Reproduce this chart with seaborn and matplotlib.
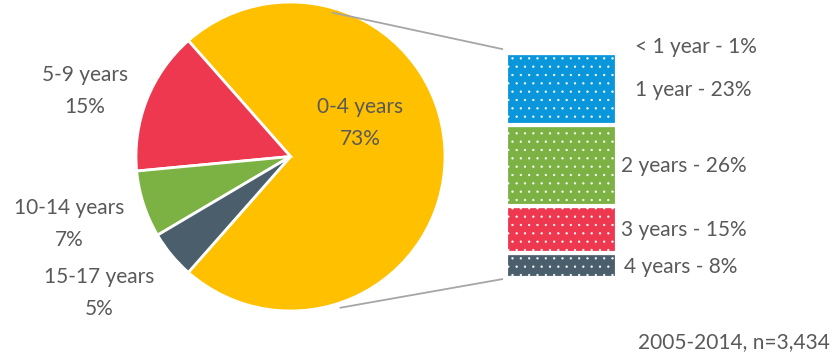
import numpy as np
import matplotlib
import matplotlib.pyplot as plt
import seaborn as sns

matplotlib.use("agg")

# pie data
age_groups = ["0-4 years", "5-9 years", "10-14 years", "15-17 years"]
age_pcts = [73, 15, 7, 5]
age_colors = ["#FFC000", "#EE384F", "#7CB243", "#4B5E6B"]

# breakdown of the 0-4 slice (top to bottom)
sub_labels = ["< 1 year", "1 year", "2 years", "3 years", "4 years"]
sub_pcts = [1, 23, 26, 15, 8]
sub_colors = ["#0A96DB", "#0A96DB", "#7CB243", "#EE384F", "#4B5E6B"]

note = "2005-2014, n=3,434"

W, H = 840, 358
text_gray = "#595959"

sns.set_theme(style="white")
plt.rcParams["font.family"] = ["Lato", "DejaVu Sans"]
plt.rcParams["hatch.linewidth"] = 0.4

fig = plt.figure(figsize=(W / 100, H / 100), dpi=100)
ax = fig.add_axes([0, 0, 1, 1])

cx, cy, r = 290.5, H - 156.5, 154.5
start = -131.4
ax.pie(age_pcts, colors=age_colors, startangle=start, counterclock=True,
       center=(cx, cy), radius=r,
       wedgeprops=dict(edgecolor="white", linewidth=2))

# stacked bar for the 0-4 years slice
bx, bw = 561.5, 111
scale = 3.12
bottom = H - 278
for lab, v, c in zip(sub_labels[::-1], sub_pcts[::-1], sub_colors[::-1]):
    ax.bar(bx, v * scale, width=bw, bottom=bottom, color=c,
           edgecolor="white", linewidth=3, hatch="..")
    bottom += v * scale
bar_top = bottom
bar_bot = H - 278

# connector lines
a1, a2 = np.radians(74), np.radians(-72)
ax.plot([cx + 0.97 * r * np.cos(a1), bx - bw / 2 - 3], [cy + 0.97 * r * np.sin(a1), bar_top + 1],
        color="#A6A6A6", linewidth=1.3, solid_capstyle="butt")
ax.plot([cx + 1.03 * r * np.cos(a2), bx - bw / 2 - 3], [cy + 1.03 * r * np.sin(a2), bar_bot - 1],
        color="#A6A6A6", linewidth=1.3, solid_capstyle="butt")

fs = 15
# pie labels
pie_pos = [(360, 123), (85, 91), (69, 224), (99, 293)]
for (x, y), lab, p in zip(pie_pos, age_groups, age_pcts):
    ax.text(x, H - y, f"{lab}\n{p}%", ha="center", va="center", fontsize=fs,
            color=text_gray, linespacing=1.7)

# bar labels
sub_pos = [(635, 47), (635, 90), (621, 166), (621, 230), (624, 267)]
for (x, y), lab, p in zip(sub_pos, sub_labels, sub_pcts):
    ax.text(x, H - y, f"{lab} - {p}%", ha="left", va="center", fontsize=fs,
            color=text_gray)

ax.text(830, H - 342, note, ha="right", va="center", fontsize=fs, color=text_gray)

ax.set_xlim(0, W)
ax.set_ylim(0, H)
ax.set_aspect("equal")
ax.axis("off")

plt.savefig("out.png", dpi=100)
